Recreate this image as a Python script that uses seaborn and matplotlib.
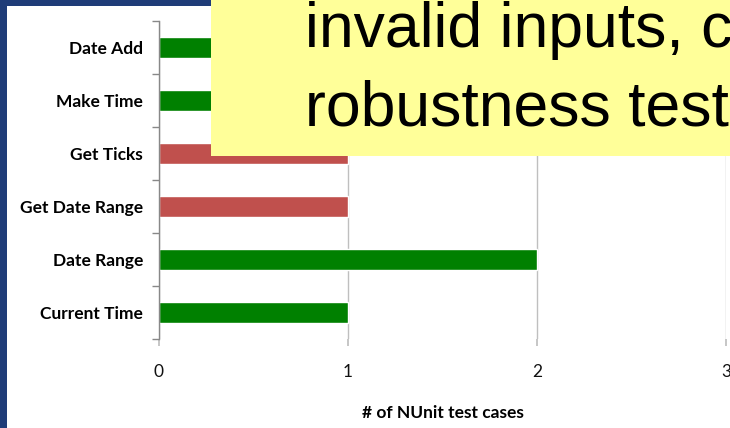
import matplotlib
matplotlib.use("Agg")
import matplotlib.pyplot as plt
from matplotlib.patches import Rectangle
from matplotlib.ticker import FixedLocator
import seaborn as sns
import pandas as pd

# Test cases per DateTime function, top to bottom
functions = ["Date Add", "Make Time", "Get Ticks", "Get Date Range", "Date Range", "Current Time"]
test_cases = [1, 1, 1, 1, 2, 1]
outcome = ["pass", "pass", "fail", "fail", "pass", "pass"]
x_ticks = [0, 1, 2, 3]

callout_lines = ["invalid inputs, c", "robustness test"]

colors = {"pass": "#008000", "fail": "#C0504D"}

df = pd.DataFrame({"function": functions, "cases": test_cases, "outcome": outcome})

sns.set_theme(style="white")
plt.rcParams["font.family"] = ["Lato", "DejaVu Sans"]

W, H = 730, 428
fig = plt.figure(figsize=(W / 100, H / 100), dpi=100)
fig.patch.set_facecolor("#1F3C78")

# white slide panel inside the blue frame
fig.patches.append(Rectangle((7 / W, 0), 1 - 7 / W, 1 - 6 / H, transform=fig.transFigure,
                             facecolor="white", edgecolor="none", zorder=-10))

ax = fig.add_axes([159 / W, 89 / H, 567 / W, 318 / H])
ax.set_facecolor("none")
ax.set_zorder(1)

sns.barplot(data=df, y="function", x="cases", hue="outcome", palette=colors,
            order=functions, dodge=False, width=0.38, legend=False,
            saturation=1, ax=ax)

ax.set_xlim(0, 3)
ax.set_ylim(len(functions) - 0.5, -0.5)
ax.set_xticks(x_ticks)
ax.set_xticklabels([str(t) for t in x_ticks], fontsize=12.5, color="#111111")
ax.xaxis.grid(True, color="#BFBFBF", linewidth=1)
ax.set_axisbelow(True)

for side in ["top", "right", "bottom"]:
    ax.spines[side].set_visible(False)
ax.spines["left"].set_color("#888888")
ax.spines["left"].set_linewidth(1)

ax.tick_params(axis="x", which="major", direction="out", length=5, color="#BFBFBF",
               pad=13, bottom=True)
ax.tick_params(axis="y", which="major", length=0, pad=11.5)
ax.yaxis.set_minor_locator(FixedLocator([i - 0.5 for i in range(len(functions) + 1)]))
ax.tick_params(axis="y", which="minor", direction="out", length=5, color="#888888", left=True)

for lbl in ax.get_yticklabels():
    lbl.set_fontweight("bold")
    lbl.set_fontsize(12.5)
    lbl.set_color("black")

ax.set_ylabel("")
ax.set_xlabel("# of NUnit test cases", fontsize=12.5, fontweight="bold", labelpad=18, color="black")

# yellow callout overlapping the chart
fig.patches.append(Rectangle((211 / W, 1 - 156 / H), 1 - 211 / W + 0.01, 156 / H + 0.01,
                             transform=fig.transFigure, facecolor="#FFFF99",
                             edgecolor="none", zorder=5))
for i, line in enumerate(callout_lines):
    fig.text(305 / W, 1 - (47 + 78 * i) / H, line, fontsize=45,
             family=["Liberation Sans", "DejaVu Sans"], color="black",
             ha="left", va="baseline", zorder=6)

fig.savefig("out.png", dpi=100)
